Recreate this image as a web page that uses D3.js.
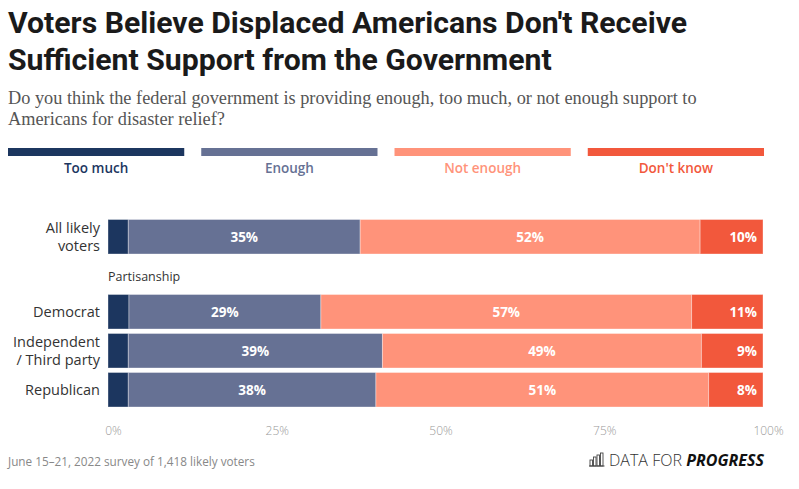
<!DOCTYPE html>
<html>
<head>
<meta charset="utf-8">
<script src="https://cdn.jsdelivr.net/npm/d3@7/dist/d3.min.js"></script>
<style>
  html, body { margin: 0; padding: 0; background: #fff; }
  svg { display: block; }
</style>
</head>
<body>
<svg id="chart" width="799" height="489"></svg>
<script>
// ---- data ----
const categories = ["All likely voters", "Democrat", "Independent / Third party", "Republican"];
const seriesNames = ["Too much", "Enough", "Not enough", "Don't know"];
const tooMuch   = [3.1, 3.2, 3.1, 3.1];
const enough    = [35.4, 29.3, 38.8, 37.8];
const notEnough = [51.9, 56.6, 48.7, 50.8];
const dontKnow  = [9.6, 10.9, 9.4, 8.3];
const tickValues = [0, 25, 50, 75, 100];
const tickLabels = ["0%", "25%", "50%", "75%", "100%"];

const colors = ["#1c365f", "#667194", "#ff937a", "#f2583c"];
const rowLabelLines = {
  "All likely voters": ["All likely", "voters"],
  "Democrat": ["Democrat"],
  "Independent / Third party": ["Independent", "/ Third party"],
  "Republican": ["Republican"]
};

const svg = d3.select("#chart");
const sans = "'Open Sans', Lato, Roboto, sans-serif";
const fitText = (sel, target) => {
  const w = sel.node().getComputedTextLength();
  const fs = parseFloat(sel.attr("font-size"));
  sel.attr("font-size", (fs * target / w).toFixed(2));
};

// ---- title ----
const t1 = svg.append("text").attr("x", 8).attr("y", 33)
  .attr("font-family", "Roboto, 'Open Sans', sans-serif").attr("font-weight", 700)
  .attr("font-size", 28).attr("fill", "#1a1a1a")
  .text("Voters Believe Displaced Americans Don't Receive");
fitText(t1, 679);
svg.append("text").attr("x", 8).attr("y", 70)
  .attr("font-family", "Roboto, 'Open Sans', sans-serif").attr("font-weight", 700)
  .attr("font-size", t1.attr("font-size")).attr("fill", "#1a1a1a")
  .text("Sufficient Support from the Government");
const s1 = svg.append("text").attr("x", 8).attr("y", 104)
  .attr("font-family", "'Liberation Serif', 'DejaVu Serif', serif")
  .attr("font-size", 17).attr("fill", "#555")
  .text("Do you think the federal government is providing enough, too much, or not enough support to");
fitText(s1, 689);
svg.append("text").attr("x", 8).attr("y", 125)
  .attr("font-family", "'Liberation Serif', 'DejaVu Serif', serif")
  .attr("font-size", s1.attr("font-size")).attr("fill", "#555")
  .text("Americans for disaster relief?");

// ---- legend ----
const lx = d3.scaleBand().domain(seriesNames).range([8, 764]).paddingInner(0.088);
const leg = svg.append("g");
seriesNames.forEach((s, i) => {
  leg.append("rect").attr("x", lx(s)).attr("y", 148).attr("width", lx.bandwidth()).attr("height", 8)
    .attr("fill", colors[i]);
  leg.append("text").attr("x", lx(s) + lx.bandwidth() / 2).attr("y", 173)
    .attr("text-anchor", "middle").attr("font-family", sans).attr("font-weight", 600)
    .attr("font-size", 13.5).attr("fill", colors[i]).text(s);
});

// ---- bars ----
const x = d3.scaleLinear().domain([0, 100]).range([108, 763]);
const rowY = { "All likely voters": 219.5, "Democrat": 294.5, "Independent / Third party": 333.5, "Republican": 372.5 };
const rowH = 34.5;
const seriesVals = [tooMuch, enough, notEnough, dontKnow];
const table = categories.map((c, i) => {
  const o = { cat: c };
  seriesNames.forEach((s, j) => o[s] = seriesVals[j][i]);
  return o;
});
const stack = d3.stack().keys(seriesNames)(table);

const gBars = svg.append("g");
stack.forEach((layer, j) => {
  layer.forEach(d => {
    const cat = d.data.cat;
    gBars.append("rect")
      .attr("x", x(d[0])).attr("y", rowY[cat])
      .attr("width", x(d[1]) - x(d[0])).attr("height", rowH)
      .attr("fill", colors[j])
      .attr("stroke", "rgba(255,255,255,0.35)").attr("stroke-width", 1);
    const v = d.data[seriesNames[j]];
    if (v >= 5) {
      const isLast = j === seriesNames.length - 1;
      gBars.append("text")
        .attr("x", isLast ? x(d[1]) - 6 : (x(d[0]) + x(d[1])) / 2)
        .attr("y", rowY[cat] + rowH / 2 + 5)
        .attr("text-anchor", isLast ? "end" : "middle")
        .attr("font-family", sans).attr("font-weight", 700).attr("font-size", 13.5)
        .attr("fill", "#fff").text(Math.round(v) + "%");
    }
  });
});

// ---- row labels ----
categories.forEach(c => {
  const lines = rowLabelLines[c];
  const cy = rowY[c] + rowH / 2;
  lines.forEach((ln, k) => {
    svg.append("text").attr("x", 100)
      .attr("y", cy + 5 + (k - (lines.length - 1) / 2) * 17.5)
      .attr("text-anchor", "end").attr("font-family", sans).attr("font-size", 14.5)
      .attr("fill", "#333").text(ln);
  });
});
svg.append("text").attr("x", 108).attr("y", 281)
  .attr("font-family", sans).attr("font-size", 12.5).attr("fill", "#333").text("Partisanship");

// ---- axis ----
const axis = d3.axisBottom(x).tickValues(tickValues)
  .tickFormat((d, i) => tickLabels[i]).tickSize(0).tickPadding(0);
const gAxis = svg.append("g").attr("transform", "translate(5,426)").call(axis);
gAxis.select(".domain").remove();
gAxis.selectAll("text").attr("font-family", sans).attr("font-size", 12)
  .attr("fill", "#999").attr("font-weight", 300);

// ---- footer ----
const ft = svg.append("text").attr("x", 8).attr("y", 466)
  .attr("font-family", sans).attr("font-size", 11).attr("fill", "#888")
  .text("June 15\u201321, 2022 survey of 1,418 likely voters");
fitText(ft, 247);

// logo
const logo = svg.append("g").attr("transform", "translate(590,466)");
[[0, 6], [3.5, 9], [7, 11], [10.5, 13]].forEach(([dx, h]) => {
  logo.append("rect").attr("x", dx).attr("y", -h).attr("width", 2.5).attr("height", h)
    .attr("fill", "none").attr("stroke", "#444").attr("stroke-width", 0.9);
});
logo.append("line").attr("x1", -1).attr("x2", 14.5).attr("y1", 0).attr("y2", 0)
  .attr("stroke", "#444").attr("stroke-width", 1);
const lt = logo.append("text").attr("x", 19).attr("y", 0)
  .attr("font-family", sans).attr("font-size", 15).attr("fill", "#333");
lt.append("tspan").attr("font-weight", 300).text("DATA FOR ");
lt.append("tspan").attr("font-weight", 700).attr("font-style", "italic").attr("fill", "#111").text("PROGRESS");
fitText(lt, 155);
</script>
</body>
</html>
